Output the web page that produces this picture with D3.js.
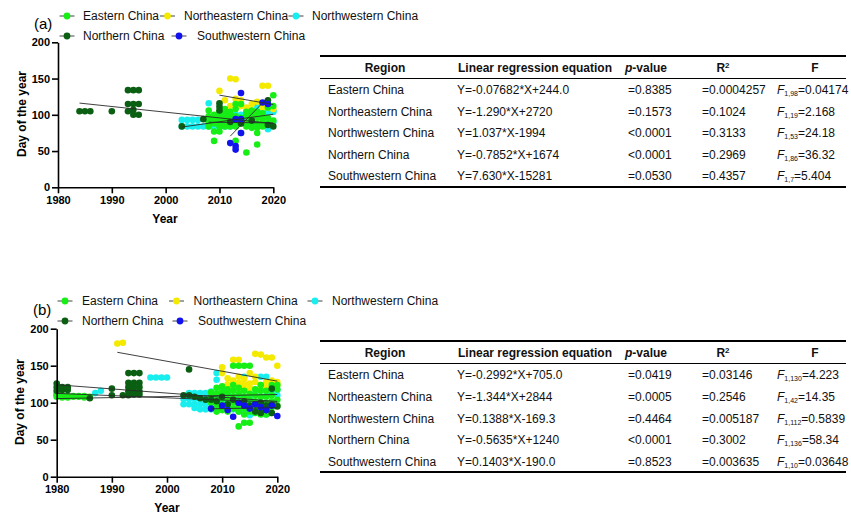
<!DOCTYPE html>
<html><head><meta charset="utf-8">
<script src="https://cdn.jsdelivr.net/npm/d3@7"></script>
<style>
body{margin:0;background:#fff;}
svg{display:block;font-family:"Liberation Sans",Arial,Helvetica,sans-serif;}
</style></head><body>
<svg id="chart" width="851" height="519"></svg>
<script>
// Regions, colours and axis ticks
const regions = ["Eastern China", "Northeastern China", "Northwestern China", "Northern China", "Southwestern China"];
const regionColors = ["#16ee16", "#f4ea00", "#18eeee", "#0b5f12", "#1212ee"];
const drawOrder = [2, 1, 0, 3, 4];
const xTicks = [1980, 1990, 2000, 2010, 2020];
const yTicks = [0, 50, 100, 150, 200];

// ---- Panel (a): [year, day of year] per region ----
const eastA = [
  [2008,106],[2008,98],[2008,92],[2008,88],[2008,84],
  [2009,64],[2009,77],[2009,88],[2009,92],[2009,96],[2009,100],
  [2010,77],[2010,84],[2010,88],[2010,92],[2010,96],[2010,100],[2010,104],
  [2011,84],[2011,88],[2011,92],[2011,96],[2011,102],[2011,108],
  [2012,84],[2012,88],[2012,92],[2012,96],[2012,100],[2012,104],
  [2013,64],[2013,84],[2013,88],[2013,92],[2013,98],[2013,108],[2013,115],
  [2014,75],[2014,88],[2014,92],[2014,96],[2014,115],
  [2015,48],[2015,84],[2015,88],[2015,94],[2015,100],[2015,104],
  [2016,82],[2016,88],[2016,92],[2016,100],[2016,106],
  [2017,59],[2017,75],[2017,82],[2017,88],[2017,96],[2017,104],
  [2018,84],[2018,90],[2018,96],[2018,102],
  [2019,88],[2019,96],[2019,110],
  [2020,92],[2020,112],[2020,127]
];
const northeastA = [
  [2010,133],[2011,120],[2011,103],[2012,150],[2012,112],[2012,90],[2013,149],[2013,122],
  [2014,112],[2014,120],[2015,110],[2016,106],[2016,115],[2017,100],[2017,118],
  [2018,140],[2018,110],[2019,140],[2019,110],[2019,114],[2020,108]
];
const northwestA = [
  [2003,93],[2004,93],[2005,93],[2006,93],[2003,84],[2004,84],[2005,84],[2006,84],[2007,84],[2008,84],
  [2008,116],[2008,90],[2009,84],[2010,84],[2010,88],[2011,84],[2011,92],[2012,84],[2012,96],
  [2013,88],[2013,100],[2014,92],[2014,100],[2015,96],[2015,104],[2016,100],[2016,104],
  [2017,100],[2017,108],[2017,112],[2017,116],[2018,96],[2018,108],[2018,112],
  [2019,80],[2019,89],[2019,104],[2020,90],[2020,104],[2020,106]
];
const northernA = [
  [1984,105],[1985,105],[1986,105],[1990,105],
  [1993,134],[1994,134],[1995,134],[1993,115],[1994,115],[1995,115],
  [1993,105],[1994,107],[1994,100],[1995,100],
  [2003,84],[2007,94],[2010,116],[2010,111],[2010,106],
  [2012,90],[2014,88],[2016,92],[2019,120],[2019,86],[2020,84]
];
const southwestA = [
  [2012,61],[2013,57],[2013,52],[2014,75],[2013,94],[2014,94],[2014,130],[2018,117],[2019,115]
];

// Regression results (a), in region order
const slopeA = ["-0.07682", "-1.290", "1.037", "-0.7852", "7.630"];
const interceptA = ["244.0", "2720", "-1994", "1674", "-15281"];
const pA = ["=0.8385", "=0.1573", "<0.0001", "<0.0001", "=0.0530"];
const r2A = ["=0.0004257", "=0.1024", "=0.3133", "=0.2969", "=0.4357"];
const fDfA = ["1,98", "1,19", "1,53", "1,86", "1,7"];
const fValA = ["=0.04174", "=2.168", "=24.18", "=36.32", "=5.404"];

// ---- Panel (b) ----
const eastB = [
  [1980,110],[1981,110],[1982,109],[1983,109],[1984,109],[1985,109],[1986,108],
  [1980,108],[1981,107],[1982,107],[1983,108],[1984,108],[1985,107],
  [2008,92],[2008,100],[2008,108],[2008,114],
  [2009,88],[2009,96],[2009,104],[2009,112],[2009,120],
  [2010,90],[2010,98],[2010,106],[2010,114],[2010,122],
  [2011,88],[2011,96],[2011,104],[2011,112],[2011,118],
  [2012,92],[2012,100],[2012,108],[2012,116],[2012,124],[2012,150],
  [2013,68],[2013,88],[2013,96],[2013,104],[2013,112],[2013,120],[2013,150],
  [2014,73],[2014,84],[2014,92],[2014,100],[2014,108],[2014,116],[2014,150],
  [2015,73],[2015,88],[2015,96],[2015,104],[2015,112],[2015,150],
  [2016,86],[2016,94],[2016,102],[2016,110],[2016,118],
  [2017,84],[2017,92],[2017,100],[2017,108],[2017,116],[2017,124],
  [2018,84],[2018,92],[2018,100],[2018,108],[2018,116],
  [2019,86],[2019,94],[2019,102],[2019,110],[2019,124],
  [2020,96],[2020,104],[2020,118],[2020,124]
];
const northeastB = [
  [1991,180],[1992,181],
  [2010,148],[2010,140],[2011,133],[2011,125],
  [2012,158],[2012,130],[2012,122],[2013,158],[2013,127],[2013,135],[2013,120],
  [2014,132],[2014,125],[2014,118],[2015,126],[2015,140],[2015,120],
  [2016,166],[2016,128],[2016,135],[2017,165],[2017,124],[2017,118],
  [2018,161],[2018,120],[2018,128],[2019,161],[2019,130],[2019,122],
  [2020,150],[2020,128],[2020,124]
];
const northwestB = [
  [1980,113],[1980,111],[1987,113],[1988,116],
  [1997,134],[1998,134],[1999,134],[2000,134],
  [2003,105],[2003,98],[2004,113],[2004,105],[2004,98],
  [2005,113],[2005,105],[2005,98],[2005,93],[2006,113],[2006,105],[2006,98],[2006,91],
  [2007,113],[2007,105],[2007,98],[2007,91],[2008,115],[2008,110],[2008,100],[2008,91],
  [2009,140],[2009,131],[2009,108],[2009,100],[2009,91],[2010,118],[2010,100],[2010,91],
  [2011,112],[2011,95],[2011,91],[2012,122],[2012,104],[2012,91],[2013,110],[2013,96],[2013,88],
  [2014,135],[2014,100],[2014,92],[2014,86],[2015,106],[2015,96],[2015,83],[2016,112],[2016,98],
  [2017,135],[2017,108],[2017,96],[2018,135],[2018,110],[2018,100],[2018,84],
  [2019,128],[2019,112],[2019,100],[2020,117],[2020,110]
];
const northernB = [
  [1980,126],[1980,121],[1981,121],[1982,121],[1981,117],[1982,117],[1980,116],[1986,106],
  [1990,119],[1990,110],[1992,110],
  [1993,140],[1994,140],[1995,140],[1993,127],[1994,127],[1995,127],[1993,121],[1994,121],[1995,121],
  [1993,115],[1994,115],[1995,115],[1993,110],[1994,111],[1995,111],
  [2003,110],[2004,110],[2004,145],
  [2005,108],[2006,106],[2007,104],[2008,104],[2009,102],[2010,108],[2011,98],[2012,104],
  [2013,100],[2014,102],[2015,96],[2016,98],[2016,88],[2017,100],[2017,86],[2018,96],[2018,90],
  [2019,97],[2019,86],[2019,119],[2020,95]
];
const southwestB = [
  [2008,92],[2010,96],[2011,90],[2012,81],[2013,100],[2014,96],[2015,92],[2016,98],
  [2017,94],[2018,90],[2019,96],[2020,82]
];

// Regression results (b)
const slopeB = ["-0.2992", "-1.344", "0.1388", "-0.5635", "0.1403"];
const interceptB = ["705.0", "2844", "-169.3", "1240", "-190.0"];
const pB = ["=0.0419", "=0.0005", "=0.4464", "<0.0001", "=0.8523"];
const r2B = ["=0.03146", "=0.2546", "=0.005187", "=0.3002", "=0.003635"];
const fDfB = ["1,130", "1,42", "1,112", "1,136", "1,10"];
const fValB = ["=4.223", "=14.35", "=0.5839", "=58.34", "=0.03648"];

const panels = [
  {
    tag: "(a)", series: [eastA, northeastA, northwestA, northernA, southwestA],
    slope: slopeA, intercept: interceptA, p: pA, r2: r2A, fDf: fDfA, fVal: fValA,
    plot: {x0: 58, x1: 273.3, yTop: 42.3, yBot: 187.3},
    yTitle: {x: 22, y: 114}, xTitle: {x: 165, y: 219},
    tagPos: {x: 34, y: 24},
    legendRows: [16, 36],
    legend: [{m: 67, t: 83, r: 0}, {m: 167.5, t: 184, r: 0}, {m: 296, t: 312, r: 0}, {m: 67, t: 83, r: 1}, {m: 179, t: 197, r: 1}],
    table: {top: 56, head: 67.5, sep: 78.5, rows: [90, 111.5, 133, 154.5, 176], bottom: 187}
  },
  {
    tag: "(b)", series: [eastB, northeastB, northwestB, northernB, southwestB],
    slope: slopeB, intercept: interceptB, p: pB, r2: r2B, fDf: fDfB, fVal: fValB,
    plot: {x0: 56.7, x1: 277.3, yTop: 328.7, yBot: 476.7},
    yTitle: {x: 20, y: 402}, xTitle: {x: 167, y: 508},
    tagPos: {x: 33, y: 310},
    legendRows: [301, 321],
    legend: [{m: 65, t: 82, r: 0}, {m: 176.5, t: 193.5, r: 0}, {m: 315, t: 332, r: 0}, {m: 65, t: 82, r: 1}, {m: 180, t: 198, r: 1}],
    table: {top: 341, head: 352.5, sep: 363.5, rows: [375, 396.7, 418.3, 440, 461.7], bottom: 472}
  }
];

const svg = d3.select("#chart");

// Table columns
const cols = {region: 328, regionHead: 385, eq: 457, eqHead: 535, p: 628, pHead: 646, r2: 702, r2Head: 723, f: 777, fHead: 815, left: 320, right: 846};

function equationText(m, b) {
  const bs = b.startsWith("-") ? b : "+" + b;
  return "Y=" + m + "*X" + bs;
}

panels.forEach(P => {
  const g = svg.append("g");
  const x = d3.scaleLinear().domain([1980, 2020]).range([P.plot.x0, P.plot.x1]);
  const y = d3.scaleLinear().domain([0, 200]).range([P.plot.yBot, P.plot.yTop]);

  // points
  drawOrder.forEach(i => {
    g.append("g").selectAll("circle").data(P.series[i]).join("circle")
      .attr("cx", d => x(d[0])).attr("cy", d => y(d[1])).attr("r", 3.3)
      .attr("fill", regionColors[i]);
  });

  // regression lines from the fitted equations over each region's year range
  P.series.forEach((data, i) => {
    const m = +P.slope[i], b = +P.intercept[i];
    const ext = d3.extent(data, d => d[0]);
    g.append("line")
      .attr("x1", x(ext[0])).attr("y1", y(m * ext[0] + b))
      .attr("x2", x(ext[1])).attr("y2", y(m * ext[1] + b))
      .attr("stroke", "#2a2a2a").attr("stroke-width", 0.9);
  });

  // axes
  const ax = g.append("g").attr("transform", `translate(0,${P.plot.yBot})`)
    .call(d3.axisBottom(x).tickValues(xTicks).tickFormat(d3.format("d")).tickSize(6).tickSizeOuter(0).tickPadding(3));
  const ay = g.append("g").attr("transform", `translate(${P.plot.x0},0)`)
    .call(d3.axisLeft(y).tickValues(yTicks).tickSize(6).tickSizeOuter(0).tickPadding(2));
  [ax, ay].forEach(a => {
    a.select(".domain").attr("stroke", "#000").attr("stroke-width", 1.6);
    a.selectAll(".tick line").attr("stroke", "#000").attr("stroke-width", 1.6);
    a.selectAll(".tick text").attr("fill", "#000").attr("font-size", 11).attr("font-weight", "bold")
      .attr("font-family", "Liberation Sans, Arial, sans-serif");
  });

  g.append("text").attr("transform", `translate(${P.yTitle.x},${P.yTitle.y}) rotate(-90)`)
    .attr("text-anchor", "middle").attr("dy", "0.35em")
    .attr("font-size", 12).attr("font-weight", "bold").text("Day of the year");
  g.append("text").attr("x", P.xTitle.x).attr("y", P.xTitle.y).attr("dy", "0.35em")
    .attr("text-anchor", "middle").attr("font-size", 12).attr("font-weight", "bold").text("Year");

  // panel tag and legend
  g.append("text").attr("x", P.tagPos.x).attr("y", P.tagPos.y).attr("dy", "0.35em")
    .attr("font-size", 15).text(P.tag);
  P.legend.forEach((L, i) => {
    const ly = P.legendRows[L.r];
    g.append("line").attr("x1", L.m - 7.5).attr("x2", L.m + 7.5).attr("y1", ly).attr("y2", ly)
      .attr("stroke", "#444").attr("stroke-width", 1);
    g.append("circle").attr("cx", L.m).attr("cy", ly).attr("r", 3.4).attr("fill", regionColors[i]);
    g.append("text").attr("x", L.t).attr("y", ly).attr("dy", "0.35em")
      .attr("font-size", 12).attr("fill", "#111").text(regions[i]);
  });

  // results table
  const T = P.table;
  const tg = svg.append("g").attr("font-size", 12).attr("fill", "#111");
  tg.append("line").attr("x1", cols.left).attr("x2", cols.right).attr("y1", T.top).attr("y2", T.top)
    .attr("stroke", "#000").attr("stroke-width", 2);
  tg.append("line").attr("x1", cols.left).attr("x2", cols.right).attr("y1", T.sep).attr("y2", T.sep)
    .attr("stroke", "#000").attr("stroke-width", 1);
  tg.append("line").attr("x1", cols.left).attr("x2", cols.right).attr("y1", T.bottom).attr("y2", T.bottom)
    .attr("stroke", "#000").attr("stroke-width", 2);

  const head = tg.append("g").attr("font-weight", "bold").attr("text-anchor", "middle");
  head.append("text").attr("x", cols.regionHead).attr("y", T.head).attr("dy", "0.35em").text("Region");
  head.append("text").attr("x", cols.eqHead).attr("y", T.head).attr("dy", "0.35em").text("Linear regression equation");
  const ph = head.append("text").attr("x", cols.pHead).attr("y", T.head).attr("dy", "0.35em");
  ph.append("tspan").attr("font-style", "italic").text("p");
  ph.append("tspan").text("-value");
  const rh = head.append("text").attr("x", cols.r2Head).attr("y", T.head).attr("dy", "0.35em");
  rh.append("tspan").text("R");
  rh.append("tspan").attr("font-size", 8).attr("dy", "-0.5em").text("2");
  head.append("text").attr("x", cols.fHead).attr("y", T.head).attr("dy", "0.35em").text("F");

  regions.forEach((name, i) => {
    const ry = T.rows[i];
    tg.append("text").attr("x", cols.region).attr("y", ry).attr("dy", "0.35em").text(name);
    tg.append("text").attr("x", cols.eq).attr("y", ry).attr("dy", "0.35em").text(equationText(P.slope[i], P.intercept[i]));
    tg.append("text").attr("x", cols.p).attr("y", ry).attr("dy", "0.35em").text(P.p[i]);
    tg.append("text").attr("x", cols.r2).attr("y", ry).attr("dy", "0.35em").text(P.r2[i]);
    const ft = tg.append("text").attr("x", cols.f).attr("y", ry + 4.2);
    ft.append("tspan").attr("font-style", "italic").text("F");
    ft.append("tspan").attr("font-size", 7).attr("dy", 2).text(P.fDf[i]);
    ft.append("tspan").attr("dy", -2).text(P.fVal[i]);
  });
});
</script></body></html>
